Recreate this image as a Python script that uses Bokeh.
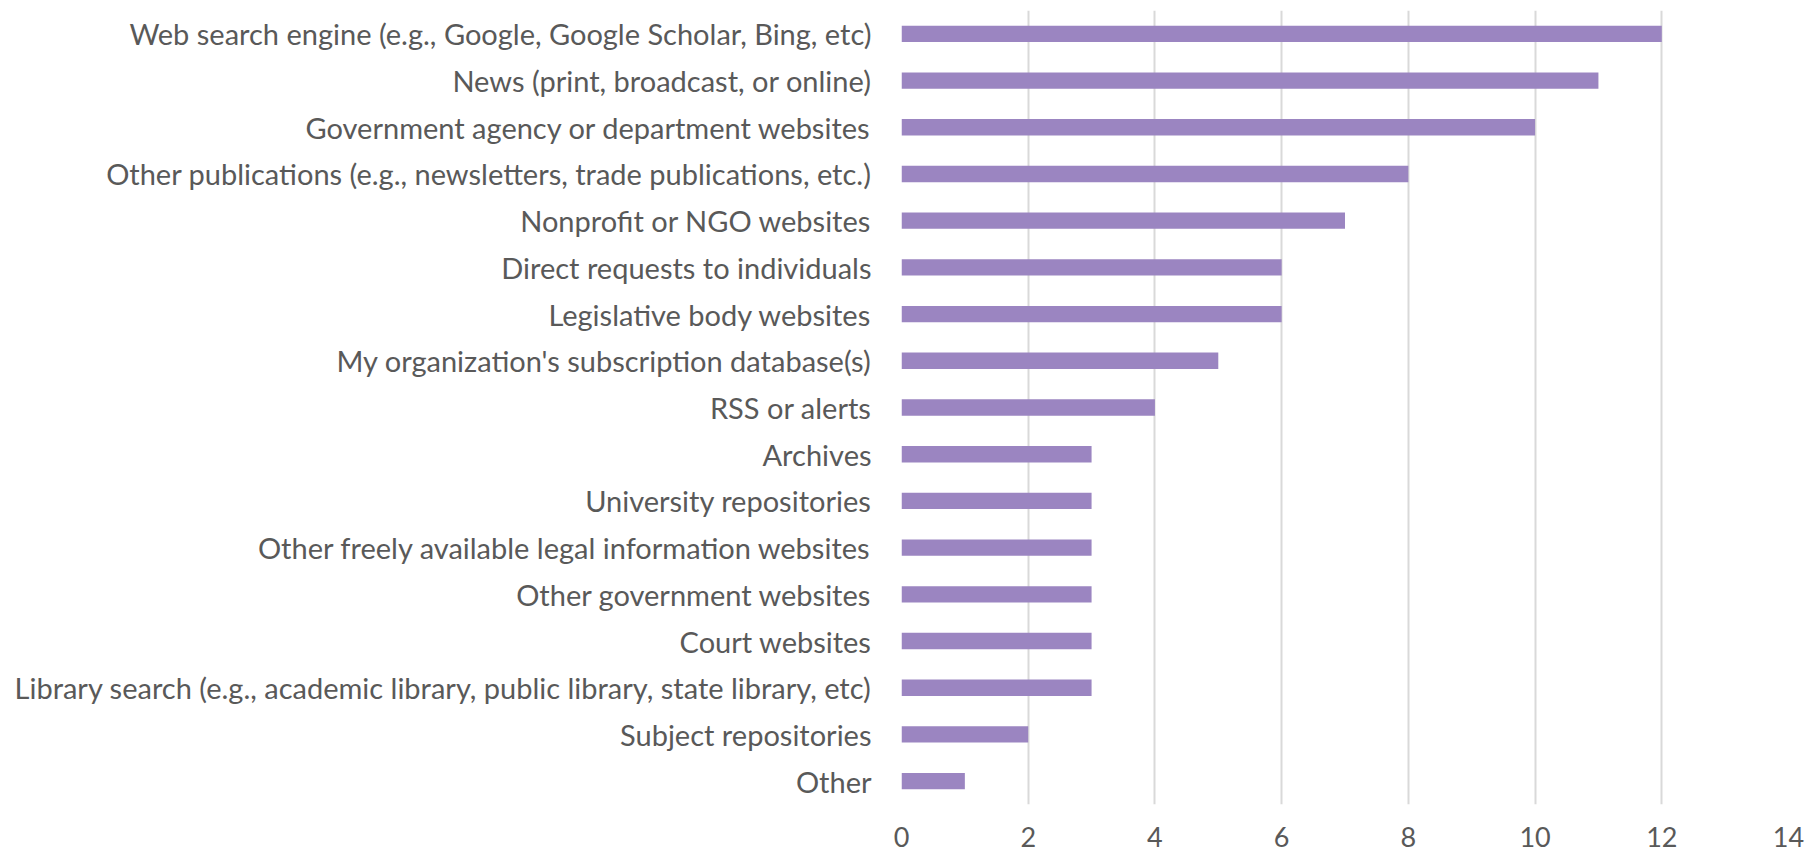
from bokeh.plotting import figure
from bokeh.embed import file_html
from bokeh.resources import INLINE
from bokeh.models import FixedTicker

categories = [
    "Web search engine (e.g., Google, Google Scholar, Bing, etc)",
    "News (print, broadcast, or online)",
    "Government agency or department websites",
    "Other publications (e.g., newsletters, trade publications, etc.)",
    "Nonprofit or NGO websites",
    "Direct requests to individuals",
    "Legislative body websites",
    "My organization's subscription database(s)",
    "RSS or alerts",
    "Archives",
    "University repositories",
    "Other freely available legal information websites",
    "Other government websites",
    "Court websites",
    "Library search (e.g., academic library, public library, state library, etc)",
    "Subject repositories",
    "Other",
]
values = [12, 11, 10, 8, 7, 6, 6, 5, 4, 3, 3, 3, 3, 3, 3, 2, 1]
x_ticks = [0, 2, 4, 6, 8, 10, 12, 14]

p = figure(
    y_range=list(reversed(categories)),
    x_range=(0, 14),
    width=1812,
    height=856,
    output_backend="svg",
    toolbar_location=None,
    min_border_left=901,
    min_border_right=24,
    min_border_top=10,
    min_border_bottom=52,
)

p.hbar(y=categories, right=values, left=0, height=0.35, color="#9b85c1", line_color=None)

font = "Lato"
p.outline_line_color = None
p.ygrid.grid_line_color = None
p.xgrid.grid_line_color = "#d9d9d9"
p.xgrid.grid_line_width = 2
p.xaxis.ticker = FixedTicker(ticks=x_ticks)

for ax in (p.xaxis, p.yaxis):
    ax.axis_line_color = None
    ax.major_tick_line_color = None
    ax.minor_tick_line_color = None
    ax.major_label_text_font = font
    ax.major_label_text_color = "#595959"

p.yaxis.major_label_text_font_size = "29px"
p.xaxis.major_label_text_font_size = "27px"
p.yaxis.major_label_standoff = 24
p.xaxis.major_label_standoff = 16

open("out.html", "w").write(file_html(p, INLINE))
